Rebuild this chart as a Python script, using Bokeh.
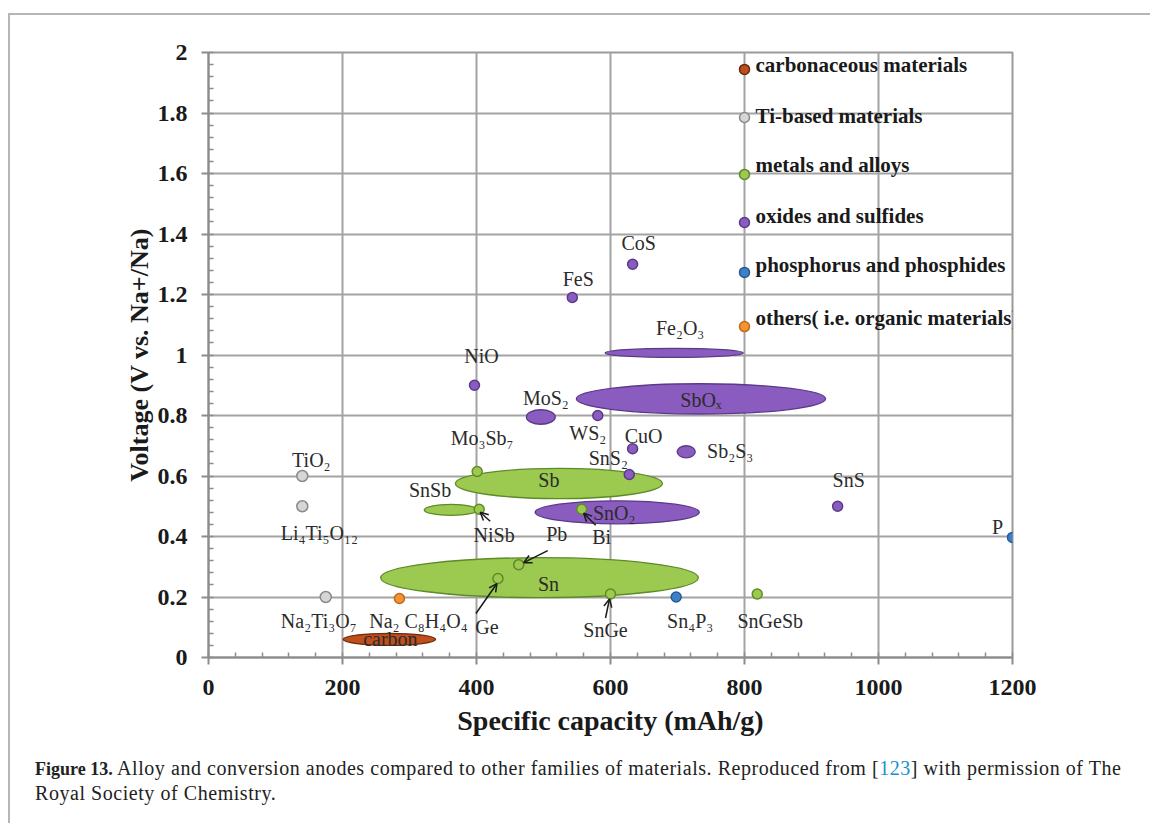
from bokeh.plotting import figure
from bokeh.models import FixedTicker, Arrow, OpenHead, Div, Spacer, ColumnDataSource
from bokeh.layouts import column, row
from bokeh.core.properties import value
from bokeh.embed import file_html
from bokeh.resources import INLINE

# ---------------- data ----------------
families = ["carbonaceous materials", "Ti-based materials", "metals and alloys",
            "oxides and sulfides", "phosphorus and phosphides",
            "others( i.e. organic materials)"]
legend_y = [1.944, 1.785, 1.597, 1.438, 1.273, 1.094]
legend_x = [800, 800, 800, 800, 800, 800]

# ellipses (capacity ranges)
ell_names = ["carbon", "Sb", "SnSb", "Sn", "Fe₂O₃", "SbOₓ", "MoS₂", "SnO₂", "Sb₂S₃"]
ell_family = [0, 2, 2, 2, 3, 3, 3, 3, 3]
ell_x = [270, 523, 362, 494, 695, 735, 496, 610, 713]
ell_y = [0.06, 0.575, 0.488, 0.264, 1.007, 0.855, 0.795, 0.48, 0.68]
ell_w = [138, 309, 80, 474, 206, 372, 43, 245, 27]
ell_h = [0.04, 0.10, 0.036, 0.132, 0.03, 0.10, 0.048, 0.076, 0.04]

# single points
pt_names = ["TiO₂", "Li₄Ti₅O₁₂", "Na₂Ti₃O₇", "Mo₃Sb₇", "NiSb", "Bi", "Pb", "Ge",
            "SnGe", "SnGeSb", "CoS", "FeS", "NiO", "WS₂", "CuO", "SnS₂", "SnS",
            "P", "Sn₄P₃", "Na₂ C₈H₄O₄"]
pt_family = [1, 1, 1, 2, 2, 2, 2, 2, 2, 2, 3, 3, 3, 3, 3, 3, 3, 4, 4, 5]
pt_x = [140, 140, 175, 401, 404, 557, 463, 432, 600, 819, 633, 543, 397, 581,
        633, 628, 939, 1200, 698, 285]
pt_y = [0.60, 0.50, 0.20, 0.615, 0.49, 0.49, 0.307, 0.261, 0.21, 0.21, 1.30,
        1.19, 0.90, 0.80, 0.69, 0.605, 0.50, 0.397, 0.20, 0.195]

x_ticks = [0, 200, 400, 600, 800, 1000, 1200]
x_tick_labels = ["0", "200", "400", "600", "800", "1000", "1200"]
y_ticks = [0, 0.2, 0.4, 0.6, 0.8, 1, 1.2, 1.4, 1.6, 1.8, 2]
y_tick_labels = ["0", "0.2", "0.4", "0.6", "0.8", "1", "1.2", "1.4", "1.6", "1.8", "2"]

# ---------------- styles ----------------
fam_fill = ["#bf4f1c", "#d6d6d6", "#9cc94f", "#8a5cbf", "#3c80cc", "#f39332"]
fam_line = ["#6a2a0e", "#8a8a8a", "#5e8a28", "#5a3a88", "#2a5a90", "#c06a1a"]

# label offsets in screen px (dx, dy-down)
ell_lab_off = [(1, 0), (-10, -4), (-21, -20), (9, 6), (6, -25), (0, 1), (5, -19),
               (-3, 1), (44, -1)]
pt_lab_off = [(9, -16), (17, 27), (-7, 24), (5, -33), (15, 26), (20, 28), (38, -31),
              (-11, 48), (-5, 36), (13, 27), (6, -21), (6, -19), (7, -29), (-10, 17),
              (11, -13), (-21, -16), (11, -26), (-15, -10), (14, 24), (19, 22)]
legend_lab_dy = [-4, -2, -9, -7, -7, -9]
# arrows: point name, tail offset px, head offset px
arrows = [("NiSb", (11, 12), (1, 3)), ("Bi", (14, 16), (2, 4)),
          ("Pb", (29, -14), (5, -2)), ("Ge", (-22, 35), (-1, 5)),
          ("SnGe", (-5, 24), (-1, 5))]

SERIF = "Liberation Serif"
FRAME_W, FRAME_H = 804, 605
X0, X1, Y0, Y1 = 0, 1200, 0, 2
dxpp = (X1 - X0) / FRAME_W
dypp = (Y1 - Y0) / FRAME_H

p = figure(width=1135, height=735, x_range=(X0, X1), y_range=(Y0, Y1),
           output_backend="svg", toolbar_location=None,
           min_border_left=198, min_border_top=37, min_border_right=133,
           min_border_bottom=93)
p.background_fill_color = "white"
p.border_fill_color = "white"
p.outline_line_color = "#9a9a9a"
p.outline_line_width = 2

for ax, ticks, labels in ((p.xaxis[0], x_ticks, x_tick_labels),
                          (p.yaxis[0], y_ticks, y_tick_labels)):
    ax.major_label_overrides = {t: l for t, l in zip(ticks, labels)}
    ax.axis_line_color = "#8c8c8c"
    ax.axis_line_width = 2
    ax.major_tick_line_color = "#8c8c8c"
    ax.major_tick_line_width = 2
    ax.major_tick_out = 7
    ax.major_tick_in = 0
    ax.minor_tick_line_color = "#8c8c8c"
    ax.minor_tick_line_width = 1.5
    ax.minor_tick_in = 5
    ax.minor_tick_out = 0
    ax.major_label_text_font = SERIF
    ax.major_label_text_font_style = "bold"
    ax.major_label_text_font_size = "24px"
    ax.major_label_text_color = "#1a1a1a"
    ax.axis_label_text_font = SERIF
    ax.axis_label_text_font_style = "bold"
    ax.axis_label_text_color = "#1a1a1a"

p.xaxis.ticker = FixedTicker(ticks=x_ticks, minor_ticks=list(range(0, 1201, 40)))
p.yaxis.ticker = FixedTicker(ticks=y_ticks, minor_ticks=[i * 0.04 for i in range(51)])
p.xaxis.axis_label = "Specific capacity (mAh/g)"
p.yaxis.axis_label = "Voltage (V vs. Na+/Na)"
p.xaxis.axis_label_text_font_size = "28px"
p.yaxis.axis_label_text_font_size = "26px"
p.xaxis.major_label_standoff = 15
p.yaxis.major_label_standoff = 14
p.xaxis.axis_label_standoff = 7
p.yaxis.axis_label_standoff = 1

for g in (p.xgrid[0], p.ygrid[0]):
    g.grid_line_color = "#a3a3a3"
    g.grid_line_width = 2
p.xgrid.ticker = FixedTicker(ticks=x_ticks)
p.ygrid.ticker = FixedTicker(ticks=y_ticks)

# ellipses
ell_src = ColumnDataSource(dict(
    x=ell_x, y=ell_y, w=ell_w, h=ell_h, name=ell_names,
    fill=[fam_fill[f] for f in ell_family], line=[fam_line[f] for f in ell_family],
    dx=[o[0] for o in ell_lab_off], dy=[o[1] for o in ell_lab_off]))
p.ellipse(x="x", y="y", width="w", height="h", fill_color="fill", line_color="line",
          line_width=1.3, source=ell_src)

# points
pt_src = ColumnDataSource(dict(
    x=pt_x, y=pt_y, name=pt_names,
    fill=[fam_fill[f] for f in pt_family], line=[fam_line[f] for f in pt_family],
    size=[11 if f == 1 else 10 for f in pt_family],
    dx=[o[0] for o in pt_lab_off], dy=[o[1] for o in pt_lab_off]))
p.scatter(x="x", y="y", size="size", fill_color="fill", line_color="line",
          line_width=1.5, source=pt_src)

# legend-like markers drawn as in the original chart
lg_src = ColumnDataSource(dict(
    x=legend_x, y=legend_y, name=families, fill=fam_fill, line=fam_line,
    dy=legend_lab_dy))
p.scatter(x="x", y="y", size=10, fill_color="fill", line_color="line",
          line_width=1.5, source=lg_src)
p.text(x="x", y="y", text="name", x_offset=11, y_offset="dy", source=lg_src,
       text_font=value(SERIF), text_font_style="bold", text_font_size="21px",
       text_color="#1a1a1a", text_baseline="middle", text_align="left")

# labels
for src in (ell_src, pt_src):
    p.text(x="x", y="y", text="name", x_offset="dx", y_offset="dy", source=src,
           text_font=value(SERIF), text_font_size="20px", text_color="#2b2b2b",
           text_baseline="middle", text_align="center")

# arrows
for name, tail, head in arrows:
    i = pt_names.index(name)
    px, py = pt_x[i], pt_y[i]
    p.add_layout(Arrow(end=OpenHead(size=8, line_width=1.5, line_color="#1a1a1a"),
                       x_start=px + tail[0] * dxpp, y_start=py - tail[1] * dypp,
                       x_end=px + head[0] * dxpp, y_end=py - head[1] * dypp,
                       line_width=1.5, line_color="#1a1a1a"))

caption = Div(
    text=('<div style="font-family:\'Liberation Serif\';font-size:20px;line-height:24px;'
          'color:#222;white-space:nowrap;letter-spacing:0.55px;">'
          '<b style="font-size:18px;letter-spacing:0px;">Figure 13.</b> Alloy and '
          'conversion anodes compared to other families of '
          'materials. Reproduced from [<span style="color:#1a8fc9">123</span>] with '
          'permission of The<br>Royal Society of Chemistry.</div>'),
    width=1130, height=68, styles={"padding-left": "20px", "padding-top": "1px"})

inner = column(p, caption, styles={"border-left": "2px solid #b5b5b5",
                                   "border-top": "2px solid #b5b5b5"})
root = column(Spacer(height=13), row(Spacer(width=8), inner))

open("out.html", "w").write(file_html(root, INLINE))
